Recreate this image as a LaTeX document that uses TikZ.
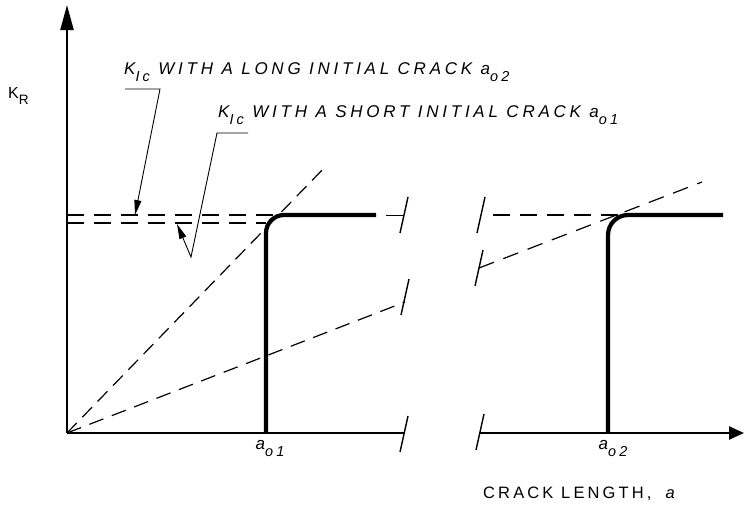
\documentclass[tikz,border=0pt]{standalone}
\usepackage{fontspec}
\setmainfont{Liberation Sans}
\usepackage{tikz}
\usetikzlibrary{arrows.meta, calc}
\newcommand{\lowsub}[1]{\raisebox{-0.42em}{\scalebox{0.85}{#1}}}

\begin{document}
\begin{tikzpicture}[
  x=1pt, y=-1pt,
  >=Triangle,
  axis/.style={line width=2.4pt},
  curve/.style={line width=4.2pt},
  dsh/.style={line width=1.2pt, dash pattern=on 17pt off 10pt},
  brk/.style={line width=1.4pt},
  lead/.style={line width=0.9pt},
  lbl/.style={inner sep=0pt, font=\fontsize{17}{20}\selectfont\itshape\addfontfeature{LetterSpace=22}},
]
\useasboundingbox (0,0) rectangle (744,504);

%% Axes with breaks
\coordinate (O) at (67,433);
\coordinate (ytop) at (67,5);
\coordinate (xbrkA) at (404,433);
\coordinate (xbrkB) at (480,433);
\coordinate (xend) at (744,433);
\draw[axis, -{Triangle[length=25pt, width=13pt]}] (O) -- (ytop);
\draw[axis] (O) -- (xbrkA);
\draw[axis, -{Triangle[length=15pt, width=13pt]}] (xbrkB) -- (xend);

%% Break marks
\foreach \c in {(404,215),(481,215),(405,297),(479,268),(404,434),(480,432)}
  \draw[brk] \c ++(4,-18) -- ++(-8,36);

%% K_R curves
\draw[curve, rounded corners=18pt] (266,433) -- (266,215) -- (376,215);
\draw[curve, rounded corners=20pt] (608,433) -- (608,215) -- (723,215);

%% Dashed construction lines
\draw[dsh] (O |- 0,215) -- (285,215);
\draw[lead] (386,215) -- (404,215);
\draw[dsh] (O |- 0,223) -- (266,223);
\draw[dsh, dash pattern=on 14pt off 8pt] (O) -- (327,165);
\draw[dsh, dash pattern=on 15pt off 9pt] (O) -- (405,302);
\draw[dsh] (493,215) -- (620,215);
\draw[dsh, dash pattern=on 16pt off 10pt] (479,268) -- (702,182);

%% Labels
\node[lbl, anchor=base west] (longlbl) at (124,74)
  {K\lowsub{Ic} WITH A LONG INITIAL CRACK a\lowsub{o2}};
\node[lbl, anchor=base west] (shortlbl) at (218,117)
  {K\lowsub{Ic} WITH A SHORT INITIAL CRACK a\lowsub{o1}};
\node[inner sep=0pt, anchor=base west, font=\fontsize{16}{18}\selectfont] (kr) at (8,98)
  {K\lowsub{R}};
\node[lbl, anchor=base] (ao1) at (270,449)
  {a\lowsub{o1}};
\node[lbl, anchor=base] (ao2) at (613,449)
  {a\lowsub{o2}};
\node[inner sep=0pt, anchor=base west, font=\fontsize{16.5}{18}\selectfont\addfontfeature{LetterSpace=19}] (xlbl) at (483,498)
  {CRACK LENGTH,\hspace{14pt}\textit{a}};

%% Leaders
\coordinate (longA) at (125,89);
\coordinate (longB) at (160,89);
\coordinate (longT) at (135,215);
\coordinate (shortA) at (248,133);
\coordinate (shortB) at (217,133);
\coordinate (shortC) at (191,257);
\coordinate (shortT) at (177,224);
\draw[lead, -{Triangle[length=15pt, width=7pt]}] (longA) -- (longB) -- (longT);
\draw[lead, -{Triangle[length=15pt, width=7pt]}] (shortA) -- (shortB) -- (shortC) -- (shortT);

\end{tikzpicture}
\end{document}
